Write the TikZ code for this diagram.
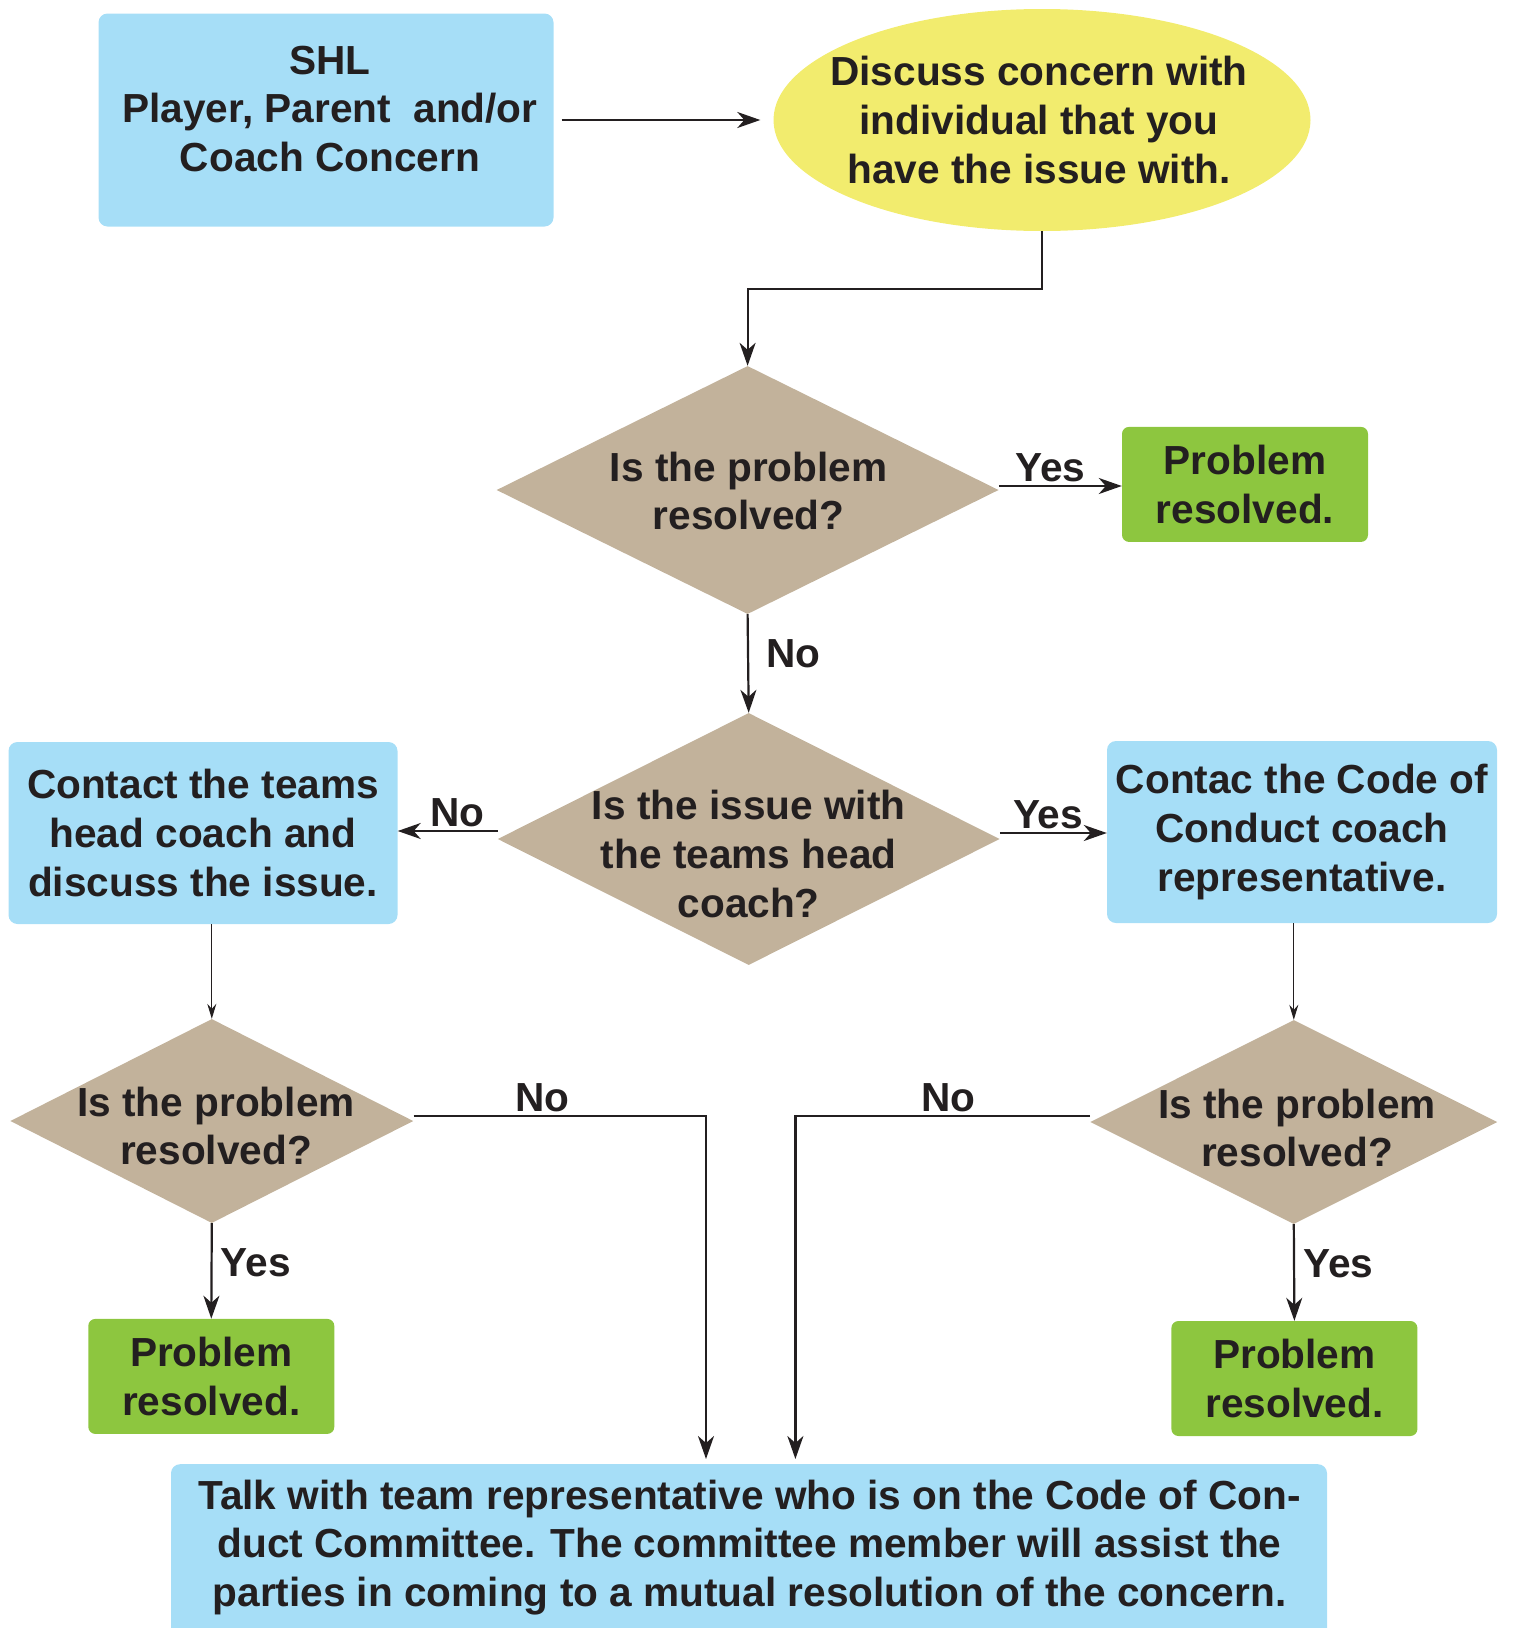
\documentclass[tikz,border=0pt]{standalone}
\usepackage{fontspec}
\setmainfont{Liberation Sans}
\usepackage{tikz}
\usetikzlibrary{shapes.geometric}
\usetikzlibrary{arrows.meta}
\usetikzlibrary{positioning}

\definecolor{boxblue}{RGB}{166,222,247}
\definecolor{ovalyellow}{RGB}{242,236,110}
\definecolor{decisiontan}{RGB}{194,178,155}
\definecolor{donegreen}{RGB}{141,198,63}
\definecolor{inkdark}{RGB}{35,31,32}

\tikzset{
    txt/.style={text=inkdark, font=\bfseries\fontsize{40.6}{48.8}\selectfont, align=center, inner sep=0pt},
    bluebox/.style={txt, fill=boxblue, rounded corners=9pt},
    greenbox/.style={txt, fill=donegreen, rounded corners=7pt, minimum width=246pt, minimum height=115pt},
    decision/.style={diamond, fill=decisiontan, inner sep=0pt},
    flow/.style={draw=inkdark, line width=2.2pt, -{Stealth[length=23pt, width=16pt, inset=7pt]}},
    thinflow/.style={draw=inkdark, line width=1.2pt, -{Stealth[length=15pt, width=9pt, inset=5pt]}},
    lbl/.style={txt, inner sep=3pt}
}

\begin{document}
\begin{tikzpicture}[x=1pt, y=-1pt]
            \useasboundingbox (0, 0) rectangle (1513, 1628);
            % top row
            \node [bluebox, minimum width=455pt, minimum height=213pt] (concern) at (326, 120) {};
            \node [txt] (concerntxt) at (330, 109) {SHL\\Player, Parent~ and/or\\Coach Concern};
            \node [ellipse, fill=ovalyellow, minimum width=537pt, minimum height=222pt] (ell) at (1042, 120) {};
            \node [txt] (elltxt) at (1039, 120) {Discuss concern with\\individual that you\\have the issue with.};
            \draw [flow, shorten <=8pt, shorten >=13pt] (concern.east) -- (ell.west);

            % first question
            \node [decision, minimum width=502pt, minimum height=248pt] (q1) at (747.6, 490) {};
            \node [txt] (q1txt) at (748.7, 491) {Is the problem\\resolved?};
            \node [greenbox] (res1) at (1245, 484.4) {Problem\\resolved.};
            \draw [flow] (ell.south) -- ++(0, 58) -| (q1.north);
            \draw [flow] ([yshift=4pt]q1.east) -- node [lbl, above, pos=0.42] (yes1) {Yes} ([yshift=4pt]q1.east -| res1.west);

            % second question
            \node [decision, minimum width=502pt, minimum height=252pt] (q2) at (748.7, 839) {};
            \node [txt] (q2txt) at (748.7, 854) {Is the issue with\\the teams head\\coach?};
            \draw [flow] (q1.south) -- node [lbl, right=14pt, pos=0.4] (no1) {No} (q2.north);
            \node [bluebox, minimum width=389pt, minimum height=182pt] (headcoach) at (203, 833) {Contact the teams\\head coach and\\discuss the issue.};
            \node [bluebox, minimum width=390pt, minimum height=182pt] (codecoach) at (1302, 832) {Contac the Code of\\Conduct coach\\representative.};
            \draw [flow] ([yshift=8pt]q2.west) -- node [lbl, above, pos=0.4] (no2) {No} ([yshift=8pt]q2.west -| headcoach.east);
            \draw [flow] ([yshift=6pt]q2.east) -- node [lbl, above, pos=0.45] (yes2) {Yes} ([yshift=6pt]q2.east -| codecoach.west);

            % left and right questions
            \node [decision, minimum width=403pt, minimum height=204pt] (q3) at (211.8, 1121) {};
            \node [txt] (q3txt) at (216, 1126) {Is the problem\\resolved?};
            \node [decision, minimum width=407pt, minimum height=204pt] (q4) at (1293.8, 1122) {};
            \node [txt] (q4txt) at (1297, 1128) {Is the problem\\resolved?};
            \draw [thinflow] (headcoach.south -| q3.north) -- (q3.north);
            \draw [thinflow] (codecoach.south -| q4.north) -- (q4.north);

            \node [greenbox] (res3) at (211.3, 1376.4) {Problem\\resolved.};
            \node [greenbox] (res4) at (1294.4, 1378.5) {Problem\\resolved.};
            \draw [flow] (q3.south) -- node [lbl, right=5pt, pos=0.41] (yes3) {Yes} (res3.north);
            \draw [flow] (q4.south) -- node [lbl, right=5pt, pos=0.41] (yes4) {Yes} (res4.north);

            % committee
            \node [fill=boxblue, rounded corners=9pt, minimum width=1156pt, minimum height=200pt, anchor=north] (talk) at (749, 1464) {};
            \node [txt] (talktxt) at (749.5, 1547.5) {Talk with team representative who is on the Code of Con-\\duct Committee. The committee member will assist the\\parties in coming to a mutual resolution of the concern.};
            \coordinate (inL) at (706, 1459);
            \coordinate (inR) at (795.4, 1459);
            \draw [flow] ([yshift=5pt]q3.east) -| node [lbl, above, pos=0.22] (no3) {No} (inL);
            \draw [flow] ([yshift=6pt]q4.west) -| node [lbl, above, pos=0.24] (no4) {No} (inR);
        \end{tikzpicture}
\end{document}
